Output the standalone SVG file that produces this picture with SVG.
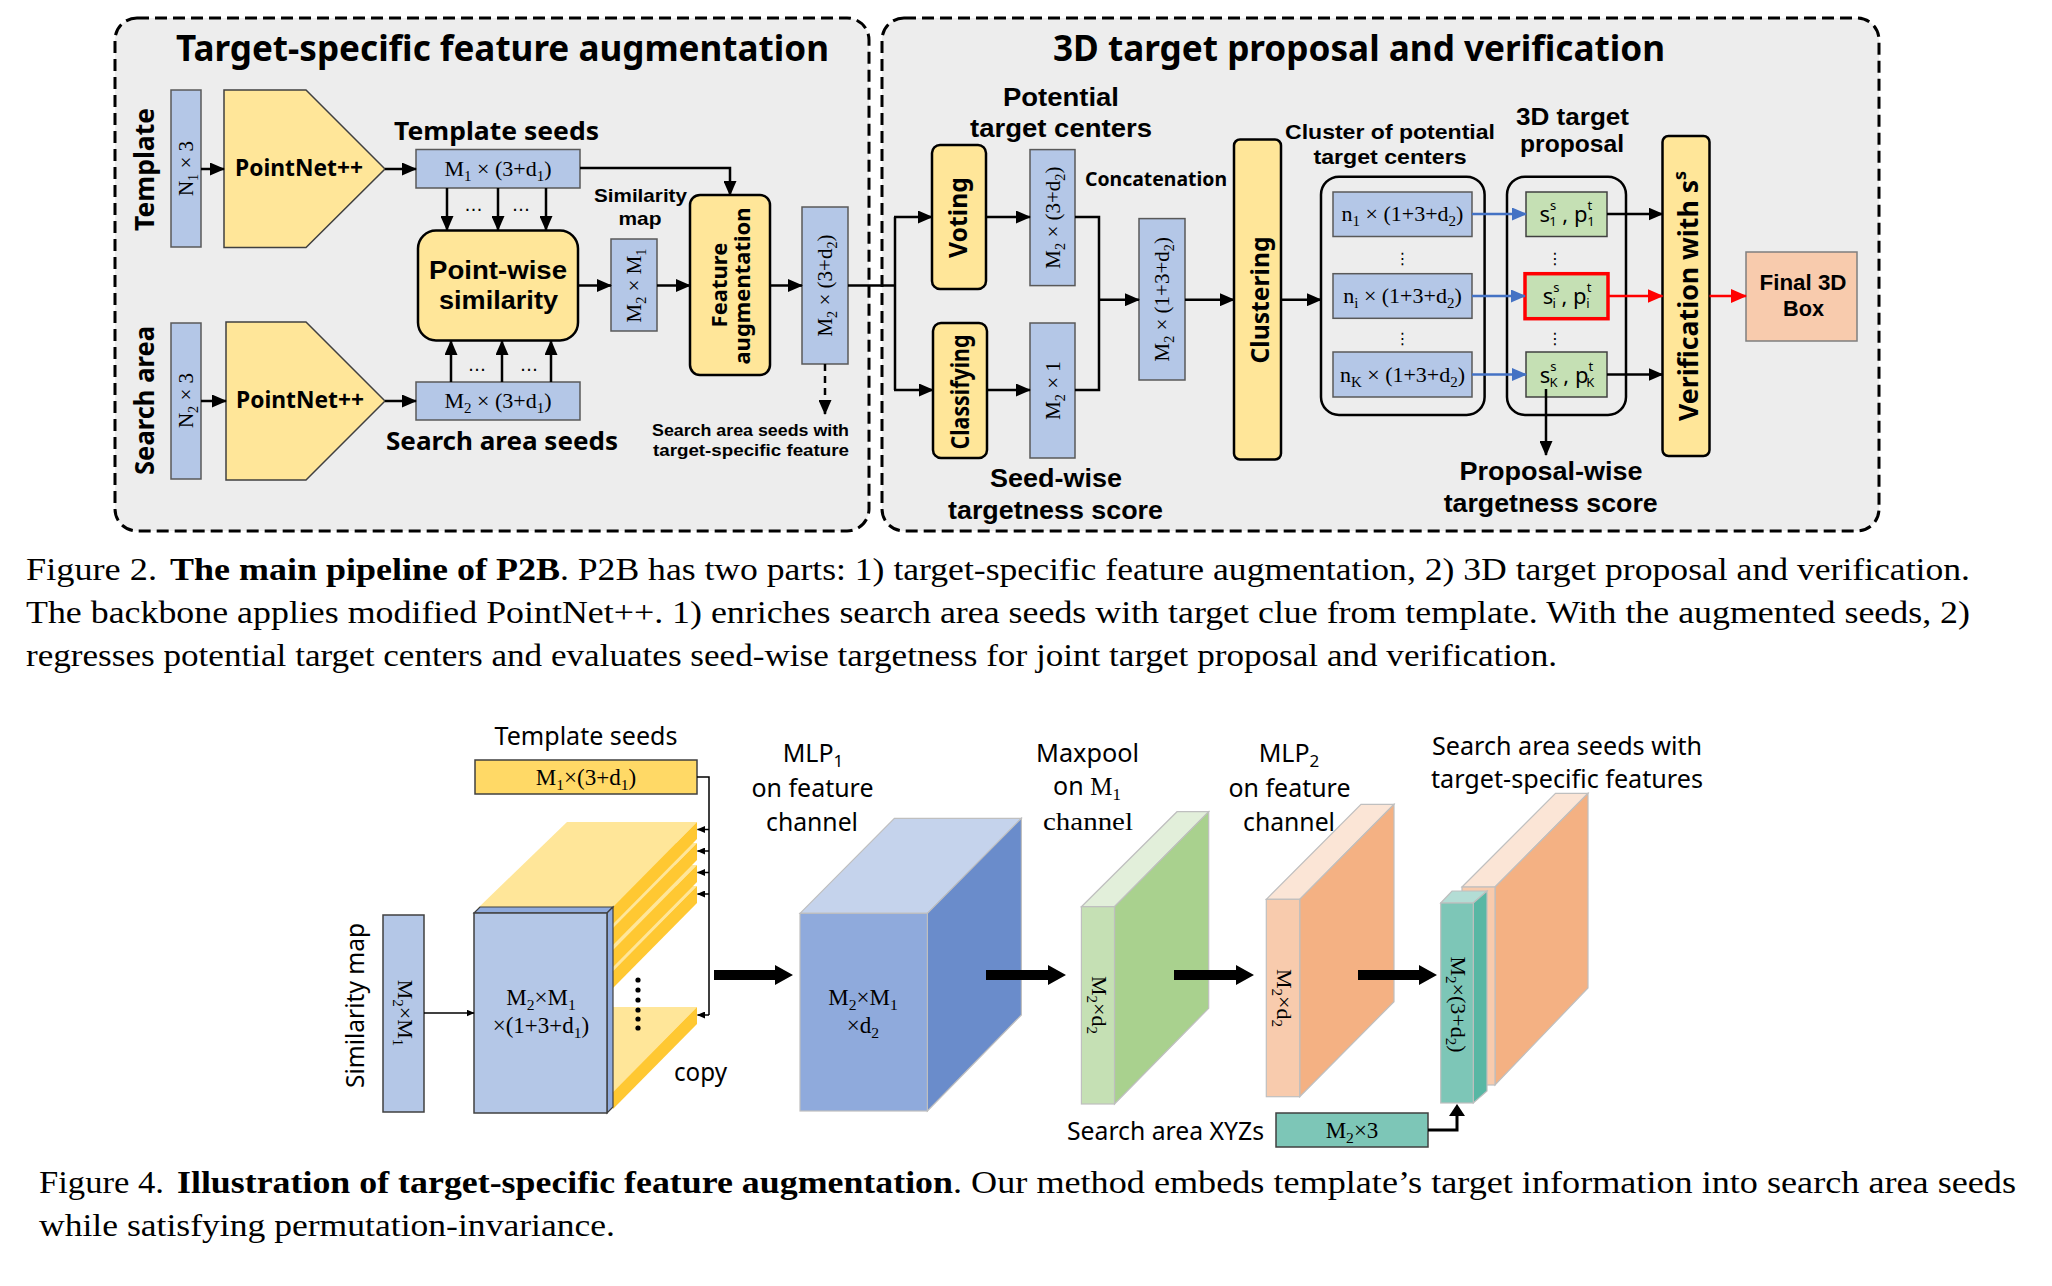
<svg xmlns="http://www.w3.org/2000/svg" width="2052" height="1286" viewBox="0 0 2052 1286">
<defs>
<style>
.bg{fill:#EDEDED;stroke:#000;stroke-width:3;stroke-dasharray:12 6}
.bb{fill:#B4C7E7;stroke:#595959;stroke-width:1.5}
.yb{fill:#FFE699;stroke:#000;stroke-width:2.5}
.gb{fill:#C5E0B4;stroke:#404040;stroke-width:1.5}
.grp{fill:none;stroke:#000;stroke-width:2.5}
.ln{fill:none;stroke:#000;stroke-width:2.5}
.ar{fill:none;stroke:#000;stroke-width:2.5;marker-end:url(#ah)}
.arb{fill:none;stroke:#4472C4;stroke-width:2.5;marker-end:url(#ahb)}
.arr{fill:none;stroke:#FF0000;stroke-width:2.5;marker-end:url(#ahr)}
.ars{fill:none;stroke:#000;stroke-width:1.5;marker-end:url(#ahs)}
.t{font-family:"Noto Sans","Open Sans",sans-serif;font-weight:bold;fill:#000}
.tl{font-family:"Liberation Sans","Noto Sans",sans-serif;font-weight:bold;fill:#000}
.n{font-family:"Noto Sans","Open Sans",sans-serif;fill:#000}
.s{font-family:"Liberation Serif","Times New Roman",serif;fill:#000}
.d{font-family:"DejaVu Sans",sans-serif;fill:#000}
.c{text-anchor:middle}
.sb{font-size:0.68em}
.cap{font-family:"Liberation Serif","Times New Roman",serif;font-size:31.5px;fill:#000}
.capb{font-family:"Liberation Serif","Times New Roman",serif;font-size:31.5px;font-weight:bold;fill:#000}
.fe{stroke:#BFBFBF;stroke-width:1.2}
</style>
<marker id="ah" markerUnits="userSpaceOnUse" markerWidth="15" markerHeight="13" refX="14" refY="6.5" orient="auto"><path d="M0,0 L15,6.5 L0,13 z" fill="#000"/></marker>
<marker id="ahb" markerUnits="userSpaceOnUse" markerWidth="15" markerHeight="13" refX="14" refY="6.5" orient="auto"><path d="M0,0 L15,6.5 L0,13 z" fill="#4472C4"/></marker>
<marker id="ahr" markerUnits="userSpaceOnUse" markerWidth="16" markerHeight="14" refX="15" refY="7" orient="auto"><path d="M0,0 L16,7 L0,14 z" fill="#FF0000"/></marker>
<marker id="ahs" markerUnits="userSpaceOnUse" markerWidth="8" markerHeight="7" refX="7.5" refY="3.5" orient="auto"><path d="M0,0 L8,3.5 L0,7 z" fill="#000"/></marker>
</defs>
<rect width="2052" height="1286" fill="#fff"/>

<g id="panel-left">
<rect class="bg" x="115" y="18" width="754" height="513" rx="22"/>
<text class="t" x="176" y="61" font-size="35" textLength="653" lengthAdjust="spacingAndGlyphs">Target-specific feature augmentation</text>
</g>
<g id="panel-right">
<rect class="bg" x="882" y="18" width="997" height="513" rx="22"/>
<text class="t" x="1053" y="61" font-size="35" textLength="612" lengthAdjust="spacingAndGlyphs">3D target proposal and verification</text>
</g>

<g id="label-template"><text class="t c" transform="translate(154,169.5) rotate(-90)" font-size="26" textLength="123" lengthAdjust="spacingAndGlyphs">Template</text></g>
<g id="label-search-area"><text class="t c" transform="translate(154,400.5) rotate(-90)" font-size="26" textLength="149" lengthAdjust="spacingAndGlyphs">Search area</text></g>

<g id="n1-box"><rect class="bb" x="171" y="90" width="30" height="157"/>
<text class="s c" transform="translate(193,168.5) rotate(-90)" font-size="21">N<tspan class="sb" dy="5">1</tspan><tspan dy="-5"> × 3</tspan></text></g>
<g id="n2-box"><rect class="bb" x="171" y="323" width="30" height="156"/>
<text class="s c" transform="translate(193,400.5) rotate(-90)" font-size="21">N<tspan class="sb" dy="5">2</tspan><tspan dy="-5"> × 3</tspan></text></g>

<g id="pointnet-top"><polygon points="224,90 306,90 385,169 306,247.5 224,247.5" fill="#FFE699" stroke="#404040" stroke-width="1.5"/>
<text class="t c" x="299" y="176" font-size="24" textLength="128" lengthAdjust="spacingAndGlyphs">PointNet++</text></g>
<g id="pointnet-bottom"><polygon points="226,322 306,322 385,401 306,480 226,480" fill="#FFE699" stroke="#404040" stroke-width="1.5"/>
<text class="t c" x="300" y="408" font-size="24" textLength="128" lengthAdjust="spacingAndGlyphs">PointNet++</text></g>

<g id="template-seeds"><rect class="bb" x="416" y="149.5" width="164" height="38.5"/>
<text class="s c" x="498" y="176" font-size="22">M<tspan class="sb" dy="5">1</tspan><tspan dy="-5"> × (3+d</tspan><tspan class="sb" dy="5">1</tspan><tspan dy="-5">)</tspan></text>
<text class="t c" x="496.5" y="140" font-size="25" textLength="205" lengthAdjust="spacingAndGlyphs">Template seeds</text></g>

<g id="search-seeds"><rect class="bb" x="416" y="382" width="164" height="38"/>
<text class="s c" x="498" y="408" font-size="22">M<tspan class="sb" dy="5">2</tspan><tspan dy="-5"> × (3+d</tspan><tspan class="sb" dy="5">1</tspan><tspan dy="-5">)</tspan></text>
<text class="t c" x="502" y="449.5" font-size="25" textLength="232" lengthAdjust="spacingAndGlyphs">Search area seeds</text></g>

<g id="pointwise"><rect class="yb" x="418" y="230.5" width="160" height="110" rx="18"/>
<text class="tl c" x="498" y="279" font-size="26" textLength="138" lengthAdjust="spacingAndGlyphs">Point-wise</text>
<text class="tl c" x="498.5" y="309" font-size="26" textLength="119" lengthAdjust="spacingAndGlyphs">similarity</text></g>

<g id="similarity-map"><rect class="bb" x="611" y="239" width="46" height="92"/>
<text class="s c" transform="translate(641,285.5) rotate(-90)" font-size="21">M<tspan class="sb" dy="5">2</tspan><tspan dy="-5"> × M</tspan><tspan class="sb" dy="5">1</tspan></text>
<text class="tl c" x="640.5" y="202" font-size="19" textLength="93" lengthAdjust="spacingAndGlyphs">Similarity</text>
<text class="tl c" x="640" y="225" font-size="19" textLength="43" lengthAdjust="spacingAndGlyphs">map</text></g>

<g id="feature-augmentation"><rect class="yb" x="690" y="195" width="80" height="180" rx="10"/>
<text class="t c" transform="translate(727,285) rotate(-90)" font-size="22">Feature</text>
<text class="t c" transform="translate(750,286) rotate(-90)" font-size="22">augmentation</text></g>

<g id="augmented-seeds"><rect class="bb" x="802" y="207" width="46" height="157"/>
<text class="s c" transform="translate(832,285.5) rotate(-90)" font-size="21">M<tspan class="sb" dy="5">2</tspan><tspan dy="-5"> × (3+d</tspan><tspan class="sb" dy="5">2</tspan><tspan dy="-5">)</tspan></text>
<text class="tl c" x="750.5" y="436" font-size="17" textLength="197" lengthAdjust="spacingAndGlyphs">Search area seeds with</text>
<text class="tl c" x="751" y="456" font-size="17" textLength="196" lengthAdjust="spacingAndGlyphs">target-specific feature</text></g>

<g id="voting"><rect class="yb" x="932" y="145" width="54" height="144" rx="8"/>
<text class="t c" transform="translate(967,217.5) rotate(-90)" font-size="25" textLength="81" lengthAdjust="spacingAndGlyphs">Voting</text></g>
<g id="classifying"><rect class="yb" x="933" y="323" width="54" height="135" rx="8"/>
<text class="t c" transform="translate(969,392) rotate(-90)" font-size="25" textLength="115" lengthAdjust="spacingAndGlyphs">Classifying</text></g>

<g id="centers-box"><rect class="bb" x="1030" y="149.6" width="45" height="136"/>
<text class="s c" transform="translate(1060,217.6) rotate(-90)" font-size="21">M<tspan class="sb" dy="5">2</tspan><tspan dy="-5"> × (3+d</tspan><tspan class="sb" dy="5">2</tspan><tspan dy="-5">)</tspan></text>
<text class="tl c" x="1061" y="106" font-size="25" textLength="116" lengthAdjust="spacingAndGlyphs">Potential</text>
<text class="tl c" x="1061" y="137" font-size="25" textLength="182" lengthAdjust="spacingAndGlyphs">target centers</text></g>

<g id="score-box"><rect class="bb" x="1030" y="323" width="45" height="135"/>
<text class="s c" transform="translate(1060,390.5) rotate(-90)" font-size="21">M<tspan class="sb" dy="5">2</tspan><tspan dy="-5"> × 1</tspan></text>
<text class="tl c" x="1056" y="487" font-size="25" textLength="132" lengthAdjust="spacingAndGlyphs">Seed-wise</text>
<text class="tl c" x="1055.5" y="519" font-size="25" textLength="215" lengthAdjust="spacingAndGlyphs">targetness score</text></g>

<g id="concat-box"><rect class="bb" x="1139" y="218.6" width="46" height="161.4"/>
<text class="s c" transform="translate(1169,299.3) rotate(-90)" font-size="21">M<tspan class="sb" dy="5">2</tspan><tspan dy="-5"> × (1+3+d</tspan><tspan class="sb" dy="5">2</tspan><tspan dy="-5">)</tspan></text>
<text class="t c" x="1156" y="186" font-size="19" textLength="142" lengthAdjust="spacingAndGlyphs">Concatenation</text></g>

<g id="clustering"><rect class="yb" x="1234" y="139.5" width="47" height="320" rx="6"/>
<text class="t c" transform="translate(1269,300) rotate(-90)" font-size="25" textLength="127" lengthAdjust="spacingAndGlyphs">Clustering</text></g>

<g id="cluster-group"><rect class="grp" x="1321" y="176.7" width="163.6" height="238.3" rx="18"/>
<text class="tl c" x="1390" y="138.5" font-size="21" textLength="210" lengthAdjust="spacingAndGlyphs">Cluster of potential</text>
<text class="tl c" x="1390" y="164" font-size="21" textLength="153" lengthAdjust="spacingAndGlyphs">target centers</text>
<rect class="bb" x="1333" y="192" width="139" height="44.5"/>
<text class="s c" x="1402.5" y="221" font-size="22">n<tspan class="sb" dy="5">1</tspan><tspan dy="-5"> × (1+3+d</tspan><tspan class="sb" dy="5">2</tspan><tspan dy="-5">)</tspan></text>
<text class="d c" x="1402.5" y="264" font-size="16">⋮</text>
<rect class="bb" x="1333" y="273.7" width="139" height="44.6"/>
<text class="s c" x="1402.5" y="303" font-size="22">n<tspan class="sb" dy="5">i</tspan><tspan dy="-5"> × (1+3+d</tspan><tspan class="sb" dy="5">2</tspan><tspan dy="-5">)</tspan></text>
<text class="d c" x="1402.5" y="344" font-size="16">⋮</text>
<rect class="bb" x="1333" y="352" width="139" height="45"/>
<text class="s c" x="1402.5" y="381.5" font-size="22">n<tspan class="sb" dy="5">K</tspan><tspan dy="-5"> × (1+3+d</tspan><tspan class="sb" dy="5">2</tspan><tspan dy="-5">)</tspan></text></g>

<g id="proposal-group"><rect class="grp" x="1507" y="176.7" width="119" height="238.3" rx="18"/>
<text class="tl c" x="1572.5" y="125" font-size="23" textLength="113" lengthAdjust="spacingAndGlyphs">3D target</text>
<text class="tl c" x="1572" y="152" font-size="23" textLength="104" lengthAdjust="spacingAndGlyphs">proposal</text>
<rect class="gb" x="1526" y="192" width="81" height="44.5"/>
<text class="n c" x="1567" y="222" font-size="22">s<tspan font-size="13" dy="-12">s</tspan><tspan font-size="13" dx="-7" dy="16">1</tspan><tspan dy="-4"> , p</tspan><tspan font-size="13" dy="-12">t</tspan><tspan font-size="13" dx="-5" dy="16">1</tspan></text>
<text class="d c" x="1555" y="264" font-size="16">⋮</text>
<rect x="1525" y="273.7" width="83" height="45" fill="#C5E0B4" stroke="#FF0000" stroke-width="3.5"/>
<text class="n c" x="1567" y="304" font-size="22">s<tspan font-size="13" dy="-12">s</tspan><tspan font-size="13" dx="-7" dy="16">i</tspan><tspan dy="-4"> , p</tspan><tspan font-size="13" dy="-12">t</tspan><tspan font-size="13" dx="-5" dy="16">i</tspan></text>
<text class="d c" x="1555" y="344" font-size="16">⋮</text>
<rect class="gb" x="1526" y="352" width="81" height="45"/>
<text class="n c" x="1567" y="382.5" font-size="22">s<tspan font-size="13" dy="-12">s</tspan><tspan font-size="13" dx="-7" dy="16">K</tspan><tspan dy="-4"> , p</tspan><tspan font-size="13" dy="-12">t</tspan><tspan font-size="13" dx="-7" dy="16">K</tspan></text>
<text class="tl c" x="1551" y="480" font-size="25" textLength="183" lengthAdjust="spacingAndGlyphs">Proposal-wise</text>
<text class="tl c" x="1550.7" y="512" font-size="25" textLength="214" lengthAdjust="spacingAndGlyphs">targetness score</text></g>

<g id="verification"><rect class="yb" x="1662.5" y="136" width="47" height="320" rx="6"/>
<text class="t c" transform="translate(1698,296) rotate(-90)" font-size="27" textLength="250" lengthAdjust="spacingAndGlyphs">Verification with s<tspan font-size="18" dy="-12">s</tspan></text></g>

<g id="final-box"><rect x="1746" y="252" width="111" height="89" fill="#F8CBAD" stroke="#7F7F7F" stroke-width="1.5"/>
<text class="tl c" x="1803" y="290" font-size="22" textLength="87" lengthAdjust="spacingAndGlyphs">Final 3D</text>
<text class="tl c" x="1803.5" y="316" font-size="22" textLength="41" lengthAdjust="spacingAndGlyphs">Box</text></g>

<g id="connectors">
<line class="ar" x1="201" y1="169" x2="224" y2="169"/>
<line class="ar" x1="385" y1="169" x2="416" y2="169"/>
<line class="ar" x1="201" y1="401" x2="226" y2="401"/>
<line class="ar" x1="385" y1="401" x2="416" y2="401"/>
<line class="ar" x1="447" y1="188" x2="447" y2="230"/>
<line class="ar" x1="498" y1="188" x2="498" y2="230"/>
<line class="ar" x1="546" y1="188" x2="546" y2="230"/>
<line class="ar" x1="451" y1="382" x2="451" y2="341"/>
<line class="ar" x1="502" y1="382" x2="502" y2="341"/>
<line class="ar" x1="551" y1="382" x2="551" y2="341"/>
<text class="d c" x="473.5" y="211" font-size="18">…</text>
<text class="d c" x="521" y="211" font-size="18">…</text>
<text class="d c" x="477" y="371" font-size="18">…</text>
<text class="d c" x="529" y="371" font-size="18">…</text>
<line class="ar" x1="578" y1="285.5" x2="611" y2="285.5"/>
<line class="ar" x1="657" y1="285.5" x2="690" y2="285.5"/>
<polyline class="ar" points="580,168 730,168 730,195"/>
<line class="ar" x1="770" y1="285.5" x2="802" y2="285.5"/>
<line x1="825" y1="364" x2="825" y2="414" stroke="#000" stroke-width="2.5" stroke-dasharray="7 5" marker-end="url(#ah)"/>
<line class="ln" x1="848" y1="285.5" x2="895" y2="285.5"/>
<line class="ln" x1="895" y1="217" x2="895" y2="390"/>
<line class="ar" x1="894" y1="217" x2="932" y2="217"/>
<line class="ar" x1="894" y1="390" x2="933" y2="390"/>
<line class="ar" x1="986" y1="217" x2="1030" y2="217"/>
<line class="ar" x1="987" y1="390" x2="1030" y2="390"/>
<polyline class="ln" points="1075,217 1099,217 1099,390 1075,390"/>
<line class="ar" x1="1099" y1="299.7" x2="1139" y2="299.7"/>
<line class="ar" x1="1185" y1="299.7" x2="1234" y2="299.7"/>
<line class="ar" x1="1281" y1="299.7" x2="1321" y2="299.7"/>
<line class="arb" x1="1472" y1="214" x2="1526" y2="214"/>
<line class="arb" x1="1472" y1="296" x2="1525" y2="296"/>
<line class="arb" x1="1472" y1="374.5" x2="1526" y2="374.5"/>
<line class="ar" x1="1607" y1="214" x2="1662.5" y2="214"/>
<line class="arr" x1="1608" y1="296" x2="1662.5" y2="296"/>
<line class="ar" x1="1607" y1="374.5" x2="1662.5" y2="374.5"/>
<line class="arr" x1="1709.5" y1="296" x2="1746" y2="296"/>
<line class="ar" x1="1546" y1="389" x2="1546" y2="455"/>
</g>

<g id="caption-fig2">
<text class="cap" x="26" y="580" textLength="131" lengthAdjust="spacingAndGlyphs">Figure 2.</text>
<text class="capb" x="170" y="580" textLength="390" lengthAdjust="spacingAndGlyphs">The main pipeline of P2B</text>
<text class="cap" x="560" y="580" textLength="1410" lengthAdjust="spacingAndGlyphs">. P2B has two parts: 1) target-specific feature augmentation, 2) 3D target proposal and verification.</text>
<text class="cap" x="26" y="623" textLength="1944" lengthAdjust="spacingAndGlyphs">The backbone applies modified PointNet++. 1) enriches search area seeds with target clue from template. With the augmented seeds, 2)</text>
<text class="cap" x="26" y="666" textLength="1531" lengthAdjust="spacingAndGlyphs">regresses potential target centers and evaluates seed-wise targetness for joint target proposal and verification.</text>
</g>

<g id="f4-similarity-map">
<text class="n c" transform="translate(364,1005.5) rotate(-90)" font-size="25" textLength="165" lengthAdjust="spacingAndGlyphs">Similarity map</text>
<rect x="383" y="915" width="41" height="197" fill="#B4C7E7" stroke="#404040" stroke-width="1.5"/>
<text class="s c" transform="translate(398,1013) rotate(90)" font-size="22">M<tspan class="sb" dy="5">2</tspan><tspan dy="-5">×M</tspan><tspan class="sb" dy="5">1</tspan></text>
</g>

<g id="f4-template-seeds">
<text class="n c" x="586" y="745" font-size="25" textLength="183" lengthAdjust="spacingAndGlyphs">Template seeds</text>
<rect x="475" y="760" width="222" height="34" fill="#FFD966" stroke="#404040" stroke-width="1.5"/>
<text class="s c" x="586" y="785" font-size="23">M<tspan class="sb" dy="5">1</tspan><tspan dy="-5">×(3+d</tspan><tspan class="sb" dy="5">1</tspan><tspan dy="-5">)</tspan></text>
</g>

<g id="f4-copied-stack">
<polygon points="478,1093 567,1007 697,1007 613,1092" fill="#FFE699"/>
<polygon points="613,1092 697,1007 697,1024 613,1109" fill="#FFC832"/>
<polygon points="478,972 567,886 697,886 613,971" fill="#FFE699"/>
<polygon points="613,971 697,886 697,903 613,988" fill="#FFC832"/>
<polygon points="478,950 567,865 697,865 613,950" fill="#FFE699"/>
<polygon points="613,950 697,865 697,882 613,967" fill="#FFC832"/>
<polygon points="478,929 567,843 697,843 613,928" fill="#FFE699"/>
<polygon points="613,928 697,843 697,860 613,945" fill="#FFC832"/>
<polygon points="478,908 567,822 697,822 613,907" fill="#FFE699"/>
<polygon points="613,907 697,822 697,839 613,924" fill="#FFC832"/>
<circle cx="638" cy="980" r="2.6"/><circle cx="638" cy="990" r="2.6"/><circle cx="638" cy="1000" r="2.6"/><circle cx="638" cy="1010" r="2.6"/><circle cx="638" cy="1019" r="2.6"/><circle cx="638" cy="1028" r="2.6"/>
<polygon points="474,913 480,907 613,907 607,913" fill="#8FAADC" stroke="#404040" stroke-width="1.2"/>
<polygon points="607,913 613,907 613,1107 607,1113" fill="#8FAADC" stroke="#404040" stroke-width="1.2"/>
<rect x="474" y="913" width="133" height="200" fill="#B4C7E7" stroke="#404040" stroke-width="1.5"/>
<text class="s c" x="541" y="1005" font-size="23">M<tspan class="sb" dy="5">2</tspan><tspan dy="-5">×M</tspan><tspan class="sb" dy="5">1</tspan></text>
<text class="s c" x="541" y="1033" font-size="23">×(1+3+d<tspan class="sb" dy="5">1</tspan><tspan dy="-5">)</tspan></text>
<text class="n" x="674" y="1081" font-size="25" textLength="53" lengthAdjust="spacingAndGlyphs">copy</text>
</g>

<g id="f4-mlp1-cube">
<polygon class="fe" points="800,913.3 894.4,818.3 1021.4,818.3 927.4,913.3" fill="#C5D3EC"/>
<polygon class="fe" points="927.4,913.3 1021.4,818.3 1021.4,1015 927.4,1111" fill="#6A8CCB"/>
<rect class="fe" x="800" y="913.3" width="127.4" height="197.7" fill="#8FAADC"/>
<text class="s c" x="863" y="1005" font-size="23">M<tspan class="sb" dy="5">2</tspan><tspan dy="-5">×M</tspan><tspan class="sb" dy="5">1</tspan></text>
<text class="s c" x="863" y="1033" font-size="23">×d<tspan class="sb" dy="5">2</tspan></text>
<text class="n c" x="813" y="762" font-size="25">MLP<tspan class="sb" dy="5">1</tspan></text>
<text class="n c" x="812.5" y="797" font-size="25" textLength="122" lengthAdjust="spacingAndGlyphs">on feature</text>
<text class="n c" x="812" y="831" font-size="25" textLength="92" lengthAdjust="spacingAndGlyphs">channel</text>
</g>

<g id="f4-maxpool-slab">
<polygon class="fe" points="1081.4,906.7 1177,811.7 1208.7,811.7 1114.5,906.7" fill="#E2EFDA"/>
<polygon class="fe" points="1114.5,906.7 1208.7,811.7 1208.7,1008.3 1114.5,1104" fill="#A9D18E"/>
<rect class="fe" x="1081.4" y="906.7" width="33.1" height="197.3" fill="#C5E0B4"/>
<text class="s c" transform="translate(1092,1005) rotate(90)" font-size="22">M<tspan class="sb" dy="5">2</tspan><tspan dy="-5">×d</tspan><tspan class="sb" dy="5">2</tspan></text>
<text class="n c" x="1087.5" y="762" font-size="25" textLength="103" lengthAdjust="spacingAndGlyphs">Maxpool</text>
<text class="n c" x="1087" y="795" font-size="25">on <tspan class="s">M</tspan><tspan class="s sb" dy="5">1</tspan></text>
<text class="s c" x="1088" y="830" font-size="26" textLength="90" lengthAdjust="spacingAndGlyphs">channel</text>
</g>

<g id="f4-mlp2-slab">
<polygon class="fe" points="1266.3,899.3 1361,804.3 1394,804.3 1299.7,899.3" fill="#FBE5D6"/>
<polygon class="fe" points="1299.7,899.3 1394,804.3 1394,1001.7 1299.7,1096.7" fill="#F4B183"/>
<rect class="fe" x="1266.3" y="899.3" width="33.4" height="197.4" fill="#F8CBAD"/>
<text class="s c" transform="translate(1277,998) rotate(90)" font-size="22">M<tspan class="sb" dy="5">2</tspan><tspan dy="-5">×d</tspan><tspan class="sb" dy="5">2</tspan></text>
<text class="n c" x="1289" y="762" font-size="25">MLP<tspan class="sb" dy="5">2</tspan></text>
<text class="n c" x="1289.5" y="797" font-size="25" textLength="122" lengthAdjust="spacingAndGlyphs">on feature</text>
<text class="n c" x="1289" y="831" font-size="25" textLength="92" lengthAdjust="spacingAndGlyphs">channel</text>
</g>

<g id="f4-output">
<polygon class="fe" points="1462,887 1555.5,793.3 1588,793.3 1495,887" fill="#FBE5D6"/>
<polygon class="fe" points="1495,887 1588,793.3 1588,988 1495,1085" fill="#F4B183"/>
<rect class="fe" x="1462" y="887" width="33" height="198" fill="#F8CBAD"/>
<polygon class="fe" points="1440.7,903 1452,891 1487,891 1473.3,903" fill="#B3DDD5"/>
<polygon class="fe" points="1473.3,903 1487,891 1487,1091 1473.3,1103" fill="#58B7A4"/>
<rect class="fe" x="1440.7" y="903" width="32.6" height="200" fill="#7DC6B7"/>
<text class="s c" transform="translate(1451,1004.5) rotate(90)" font-size="22">M<tspan class="sb" dy="5">2</tspan><tspan dy="-5">×(3+d</tspan><tspan class="sb" dy="5">2</tspan><tspan dy="-5">)</tspan></text>
<text class="n" x="1432" y="755" font-size="25" textLength="270" lengthAdjust="spacingAndGlyphs">Search area seeds with</text>
<text class="n" x="1431" y="788" font-size="25" textLength="272" lengthAdjust="spacingAndGlyphs">target-specific features</text>
</g>

<g id="f4-xyz">
<text class="n" x="1067" y="1140" font-size="25" textLength="197" lengthAdjust="spacingAndGlyphs">Search area XYZs</text>
<rect x="1276" y="1113" width="152" height="34" fill="#7DC6B7" stroke="#404040" stroke-width="1.5"/>
<text class="s c" x="1352" y="1138" font-size="23">M<tspan class="sb" dy="5">2</tspan><tspan dy="-5">×3</tspan></text>
</g>

<g id="f4-connectors">
<line class="ars" x1="424" y1="1013" x2="474" y2="1013"/>
<polyline fill="none" stroke="#000" stroke-width="1.5" points="697,777 709,777 709,1015"/>
<line class="ars" x1="709" y1="829.5" x2="697.5" y2="829.5"/>
<line class="ars" x1="709" y1="851" x2="697.5" y2="851"/>
<line class="ars" x1="709" y1="872.5" x2="697.5" y2="872.5"/>
<line class="ars" x1="709" y1="894" x2="697.5" y2="894"/>
<line class="ars" x1="709" y1="1015" x2="697.5" y2="1015"/>
<polygon points="714,970 775,970 775,965 793,975 775,985 775,980 714,980"/>
<polygon points="986,970 1048,970 1048,965 1066,975 1048,985 1048,980 986,980"/>
<polygon points="1174,970 1236,970 1236,965 1254,975 1236,985 1236,980 1174,980"/>
<polygon points="1358,970 1419,970 1419,965 1437,975 1419,985 1419,980 1358,980"/>
<polyline fill="none" stroke="#000" stroke-width="3" points="1428,1130 1457,1130 1457,1114"/>
<polygon points="1449,1116 1457,1104 1465,1116"/>
</g>

<g id="caption-fig4">
<text class="cap" x="39" y="1193" textLength="125" lengthAdjust="spacingAndGlyphs">Figure 4.</text>
<text class="capb" x="177" y="1193" textLength="776" lengthAdjust="spacingAndGlyphs">Illustration of target-specific feature augmentation</text>
<text class="cap" x="953" y="1193" textLength="1063" lengthAdjust="spacingAndGlyphs">. Our method embeds template’s target information into search area seeds</text>
<text class="cap" x="39" y="1236" textLength="576" lengthAdjust="spacingAndGlyphs">while satisfying permutation-invariance.</text>
</g>
</svg>
